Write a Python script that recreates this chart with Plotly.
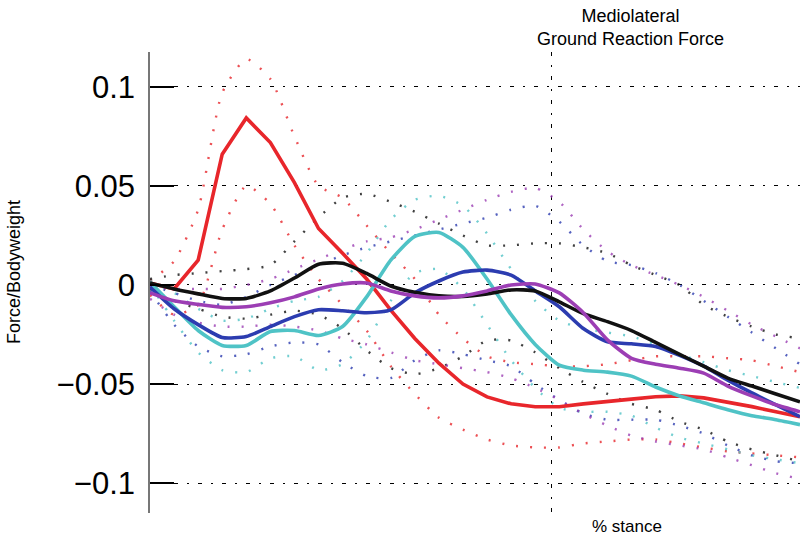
import plotly.graph_objects as go

# % stance sample positions
stance = [0, 3, 6, 9, 12, 15, 18, 21, 24, 27, 30, 33, 36, 39, 42, 45, 48, 51,
          54, 57, 60, 63, 66, 69, 72, 75, 78, 81]

# mean curves (Force/Bodyweight)
red_mean = [0.001, -0.002, 0.0125, 0.066, 0.0843, 0.0719, 0.0517, 0.0285, 0.016, 0.003,
            -0.0127, -0.027, -0.0395, -0.050, -0.0565, -0.060, -0.0615, -0.0615, -0.060,
            -0.059, -0.0576, -0.0564, -0.056, -0.057, -0.059, -0.0614, -0.064, -0.0665]
black_mean = [0.001, -0.002, -0.0045, -0.0068, -0.0068, -0.003, 0.0035, 0.0105, 0.011, 0.0058,
              -0.0005, -0.0037, -0.0055, -0.0058, -0.0045, -0.0025, -0.003, -0.0085, -0.0145,
              -0.0185, -0.023, -0.029, -0.035, -0.041, -0.047, -0.051, -0.055, -0.059]
purple_mean = [-0.004, -0.008, -0.0098, -0.0113, -0.011, -0.009, -0.006, -0.002, 0.0005, 0.001,
               -0.003, -0.0055, -0.0065, -0.0055, -0.003, 0.0, 0.0005, -0.004, -0.014,
               -0.0277, -0.037, -0.040, -0.042, -0.0445, -0.051, -0.056, -0.0605, -0.064]
blue_mean = [-0.001, -0.012, -0.020, -0.0265, -0.026, -0.021, -0.016, -0.0125, -0.013, -0.014,
             -0.0126, -0.004, 0.002, 0.0065, 0.0075, 0.005, -0.003, -0.011, -0.022,
             -0.0287, -0.0297, -0.031, -0.0355, -0.041, -0.048, -0.0545, -0.0605, -0.0665]
cyan_mean = [0.0015, -0.011, -0.023, -0.0305, -0.0305, -0.0235, -0.023, -0.0255, -0.021, -0.006,
             0.0125, 0.0245, 0.0265, 0.019, 0.003, -0.015, -0.030, -0.0405, -0.043,
             -0.044, -0.046, -0.0515, -0.056, -0.0595, -0.063, -0.066, -0.068, -0.0705]

# +/- SD bands (dotted)
red_upper = [0.002, 0.012, 0.038, 0.097, 0.114, 0.104, 0.075, 0.050, 0.044, 0.030,
             0.016, 0.003, -0.015, -0.027, -0.036, -0.039, -0.040, -0.041, -0.041,
             -0.040, -0.038, -0.036, -0.036, -0.036, -0.037, -0.038, -0.041, -0.044]
red_lower = [-0.005, -0.015, -0.010, 0.028, 0.050, 0.041, 0.020, 0.003, -0.010, -0.023,
             -0.041, -0.055, -0.067, -0.073, -0.078, -0.081, -0.082, -0.082, -0.080,
             -0.079, -0.078, -0.078, -0.080, -0.082, -0.084, -0.085, -0.086, -0.087]
black_upper = [0.003, 0.005, 0.006, 0.007, 0.008, 0.010, 0.022, 0.034, 0.044, 0.046,
               0.042, 0.037, 0.031, 0.025, 0.020, 0.020, 0.021, 0.021, 0.019,
               0.016, 0.010, 0.005, 0.000, -0.010, -0.016, -0.021, -0.025, -0.027]
black_lower = [-0.002, -0.008, -0.012, -0.016, -0.017, -0.015, -0.013, -0.015, -0.022, -0.033,
               -0.042, -0.045, -0.042, -0.036, -0.028, -0.028, -0.034, -0.042, -0.049,
               -0.055, -0.060, -0.063, -0.069, -0.073, -0.079, -0.083, -0.086, -0.089]
blue_upper = [0.000, -0.004, -0.008, -0.010, -0.006, 0.000, 0.005, 0.010, 0.015, 0.019,
              0.022, 0.025, 0.028, 0.031, 0.034, 0.038, 0.040, 0.032, 0.020,
              0.012, 0.010, 0.006, 0.000, -0.008, -0.016, -0.024, -0.032, -0.040]
blue_lower = [-0.003, -0.020, -0.031, -0.036, -0.035, -0.031, -0.029, -0.030, -0.039, -0.046,
              -0.047, -0.038, -0.033, -0.035, -0.038, -0.041, -0.050, -0.058, -0.065,
              -0.068, -0.068, -0.068, -0.071, -0.075, -0.081, -0.086, -0.089, -0.090]
purple_upper = [-0.001, -0.002, -0.002, -0.002, 0.000, 0.003, 0.008, 0.013, 0.018, 0.022,
                0.024, 0.028, 0.033, 0.038, 0.043, 0.047, 0.049, 0.042, 0.028,
                0.017, 0.010, 0.005, 0.000, -0.006, -0.013, -0.020, -0.026, -0.032]
purple_lower = [-0.007, -0.015, -0.019, -0.021, -0.021, -0.020, -0.021, -0.023, -0.027, -0.030,
                -0.034, -0.038, -0.040, -0.042, -0.044, -0.047, -0.052, -0.058, -0.065,
                -0.071, -0.076, -0.079, -0.081, -0.083, -0.087, -0.091, -0.095, -0.098]
cyan_upper = [0.002, -0.004, -0.012, -0.018, -0.017, -0.012, -0.008, -0.006, 0.002, 0.016,
              0.033, 0.043, 0.045, 0.040, 0.026, 0.008, -0.008, -0.018, -0.022,
              -0.024, -0.026, -0.030, -0.035, -0.039, -0.043, -0.046, -0.049, -0.052]
cyan_lower = [0.000, -0.018, -0.034, -0.043, -0.044, -0.037, -0.036, -0.043, -0.040, -0.028,
              -0.008, 0.006, 0.008, -0.002, -0.020, -0.038, -0.052, -0.062, -0.064,
              -0.064, -0.066, -0.072, -0.077, -0.080, -0.083, -0.086, -0.088, -0.090]

y_ticks = [-0.1, -0.05, 0, 0.05, 0.1]

RED = "#e8262b"
BLACK = "#111111"
PURPLE = "#9c3eb4"
BLUE = "#2c3cb0"
CYAN = "#4fc3c6"

series = [
    ("red", red_mean, red_upper, red_lower, RED, "linear"),
    ("cyan", cyan_mean, cyan_upper, cyan_lower, CYAN, "spline"),
    ("blue", blue_mean, blue_upper, blue_lower, BLUE, "spline"),
    ("black", black_mean, black_upper, black_lower, BLACK, "spline"),
    ("purple", purple_mean, purple_upper, purple_lower, PURPLE, "spline"),
]

fig = go.Figure()
for name, mean, up, lo, col, shape in series:
    for band in (up, lo):
        fig.add_trace(go.Scatter(
            x=stance, y=band, mode="lines", showlegend=False, hoverinfo="skip",
            line=dict(color=col, width=2.4, dash="2px,12px", shape="spline", smoothing=0.6),
            opacity=0.8,
        ))
for name, mean, up, lo, col, shape in series:
    kw = dict(shape=shape)
    if shape == "spline":
        kw["smoothing"] = 0.6
    fig.add_trace(go.Scatter(
        x=stance, y=mean, mode="lines", name=name, showlegend=False,
        line=dict(color=col, width=3.6, **kw),
    ))

fig.update_layout(
    width=803, height=537,
    margin=dict(l=150, r=3, t=52, b=24),
    paper_bgcolor="white", plot_bgcolor="white",
    font=dict(family="Liberation Sans, Arial, sans-serif", color="black"),
    xaxis=dict(
        range=[0, 81], tickvals=[50], showticklabels=False, ticks="",
        showgrid=True, gridcolor="black", gridwidth=1.2, griddash="4px,9px,2px,9px",
        zeroline=False, showline=False,
    ),
    yaxis=dict(
        range=[-0.1151, 0.1176], tickvals=y_ticks,
        ticks="inside", ticklen=24, tickwidth=2, tickcolor="black",
        tickfont=dict(size=31, color="black"), ticklabelstandoff=7,
        showgrid=True, gridcolor="black", gridwidth=1.2, griddash="4px,9px,2px,9px",
        zeroline=False, showline=True, linecolor="#777777", linewidth=1.5,
    ),
    annotations=[
        dict(text="Mediolateral<br>Ground Reaction Force", xref="paper", yref="paper",
             x=(630 - 150) / 650, y=1, xanchor="center", yanchor="bottom", yshift=1,
             showarrow=False, font=dict(size=18, color="black")),
        dict(text="% stance", xref="paper", yref="paper",
             x=(627 - 150) / 650, y=0, xanchor="center", yanchor="top", yshift=-2,
             showarrow=False, font=dict(size=17, color="black")),
        dict(text="Force/Bodyweight", xref="paper", yref="paper",
             x=(14 - 150) / 650, y=(513 - 272) / 461, xanchor="center", yanchor="middle",
             textangle=-90, showarrow=False, font=dict(size=18, color="black")),
    ],
)

fig.write_html("out.html", config={"displayModeBar": False},
               post_script="document.body.style.margin='0px';document.body.style.padding='0px';")
